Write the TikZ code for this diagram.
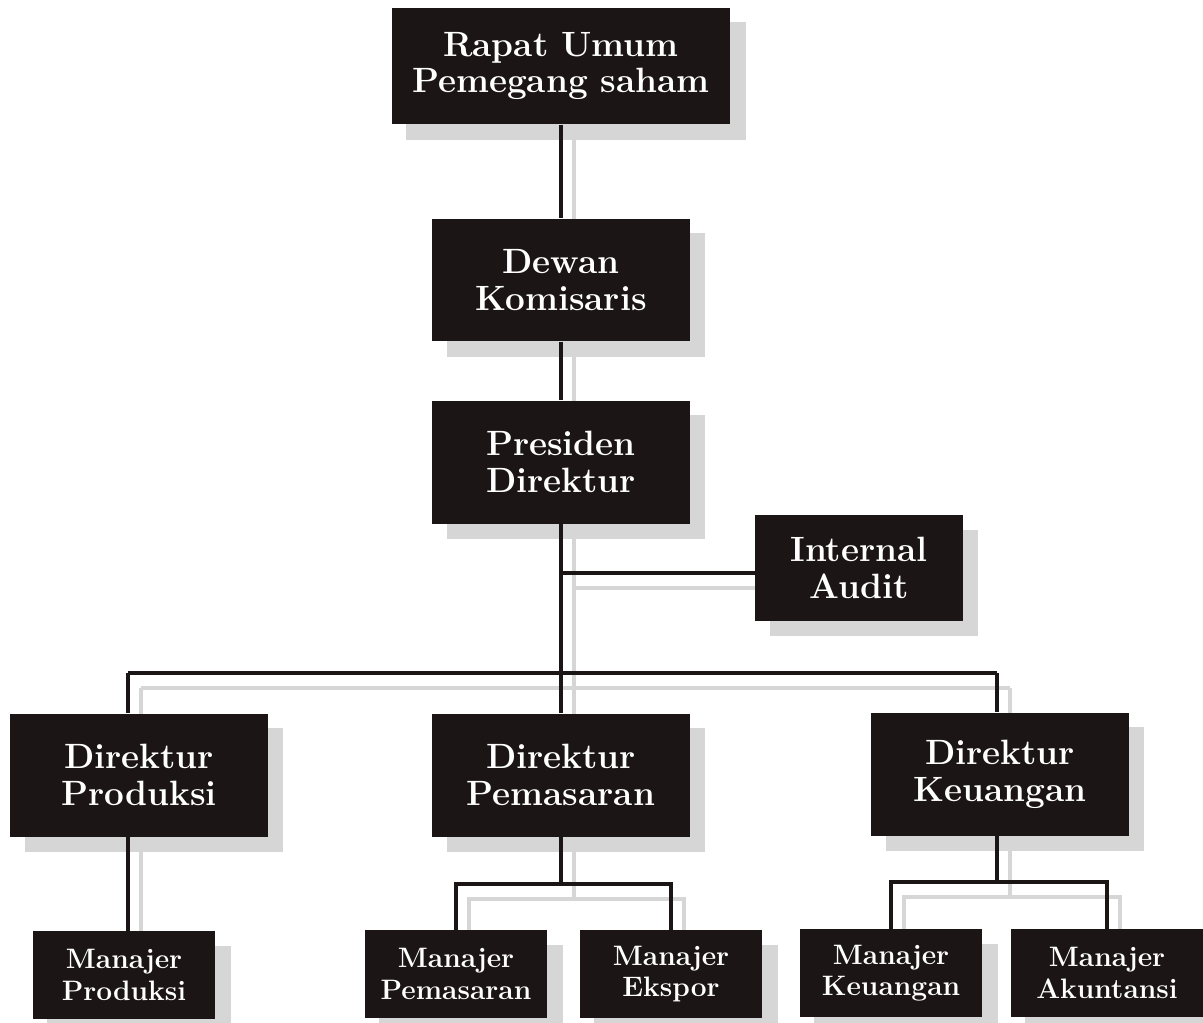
\documentclass[tikz,border=0pt]{standalone}
\usepackage{tikz}
\usetikzlibrary{positioning}
\pgfdeclarelayer{back}
\pgfdeclarelayer{mid}
\pgfsetlayers{back,mid,main}
\definecolor{boxblack}{HTML}{1C1516}
\definecolor{shadowgray}{HTML}{D6D6D6}

\begin{document}
\begin{tikzpicture}[x=0.02cm, y=-0.02cm,
        big/.style = {rectangle, fill=boxblack, text=white, align=center, inner sep=0pt, minimum width=5.16cm, minimum height=2.46cm, font=\fontsize{20}{21}\selectfont\bfseries},
        small/.style = {big, minimum width=3.66cm, minimum height=1.76cm, font=\fontsize{16}{18}\selectfont\bfseries},
        orgline/.style = {draw=boxblack, line width=2.8pt},
        ghostline/.style = {draw=shadowgray, line width=2.4pt, transform canvas={shift={(13,15)}}},
        boxshadow/.style = {fill=shadowgray}]

        \useasboundingbox (0,0) rectangle (1203,1022);

        % top of the chart
        \node[big, minimum width=6.78cm, minimum height=2.34cm] (rups) at (561,66) {Rapat Umum\\Pemegang saham};
        \node[big] (dewan) at (561,280) {Dewan\\Komisaris};
        \node[big] (presdir) at (561,462) {Presiden\\Direktur};
        \node[big, minimum width=4.16cm, minimum height=2.12cm] (audit) at (859,568) {Internal\\Audit};

        % directors
        \node[big] (dirprod) at (139,775) {Direktur\\Produksi};
        \node[big] (dirpem) at (561,775) {Direktur\\Pemasaran};
        \node[big] (dirkeu) at (1000,774) {Direktur\\Keuangan};

        % managers
        \node[small] (manprod) at (124,975) {Manajer\\Produksi};
        \node[small] (manpem) at (456,974) {Manajer\\Pemasaran};
        \node[small] (manekspor) at (671,974) {Manajer\\Ekspor};
        \node[small] (mankeu) at (891,973) {Manajer\\Keuangan};
        \node[small, minimum width=3.86cm] (manakun) at (1107,973) {Manajer\\Akuntansi};

        \coordinate (auditjoin) at (561,573);
        \coordinate (bus) at (561,673);
        \coordinate (busL) at (128,673);
        \coordinate (busR) at (997,673);
        \coordinate (pemfork) at (561,884);
        \coordinate (keufork) at (997,882);

        \begin{pgfonlayer}{back}
            \foreach \n in {rups, dewan, presdir, audit, dirprod, dirpem, dirkeu, manprod, manpem, manekspor, mankeu, manakun}
                \fill[boxshadow] ([shift={(15,15)}]\n.north west) rectangle ([shift={(15,15)}]\n.south east);
        \end{pgfonlayer}

        \foreach \st/\lay in {ghostline/back, orgline/mid} {
            \begin{pgfonlayer}{\lay}
                \draw[\st] (rups) -- (dewan); \draw[\st] (dewan) -- (presdir); \draw[\st] (presdir) -- (bus);
                \draw[\st] (auditjoin) -- (audit.west |- auditjoin);
                \draw[\st] (busL) -- (busR);
                \draw[\st] (busL) -- (busL |- dirprod.north); \draw[\st] (bus) -- (dirpem); \draw[\st] (busR) -- (busR |- dirkeu.north);
                \draw[\st] (busL |- dirprod.south) -- (busL |- manprod.north);
                \draw[\st] (dirpem) -- (pemfork);
                \draw[\st] (manpem.north) |- (pemfork) -| (manekspor.north);
                \draw[\st] (busR |- dirkeu.south) -- (keufork);
                \draw[\st] (mankeu.north) |- (keufork) -| (manakun.north);
            \end{pgfonlayer}
        }
    \end{tikzpicture}
\end{document}
